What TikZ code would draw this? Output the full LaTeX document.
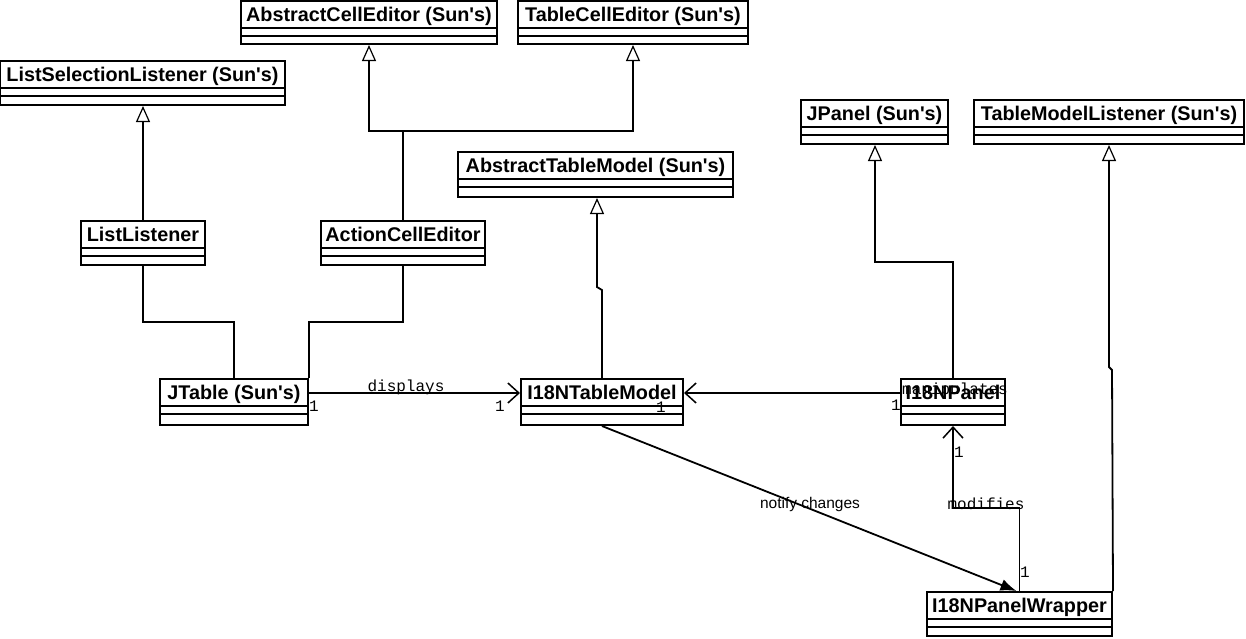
\documentclass[tikz,border=0pt]{standalone}
\usepackage{fontspec}
\setmainfont{Liberation Sans}[Ligatures=TeXOff]
\newfontfamily\monof{Liberation Mono}
\usetikzlibrary{arrows.meta,fit,calc}
\tikzset{
  clsbox/.style={draw, line width=2pt, inner sep=0pt},
  clsname/.style={font=\fontsize{19.8}{20}\selectfont\bfseries, inner sep=0pt, anchor=base},
  conn/.style={line width=1.8pt},
  gen/.style={conn, -{Triangle[open, length=16pt, width=14pt, line width=1.2pt]}},
  assoc/.style={conn, -{Straight Barb[length=11pt, width=20pt, line width=1.5pt]}},
  filled/.style={conn, -{Latex[length=16pt, width=12pt]}},
  mult/.style={font=\monof\fontsize{16}{16}\selectfont, inner sep=0pt},
  lbl/.style={font=\monof\fontsize{16}{16}\selectfont, inner sep=0pt, anchor=base},
  slbl/.style={font=\fontsize{15.5}{16}\selectfont, inner sep=0pt},
}
\newcommand\umlclass[6]{%
  \node[clsbox, fit={(#2,#3)(#4,#5)}] (#1) {};
  \node[clsname] at ($(#1.north)+(0,21)$) {#6};
  \draw[line width=2pt] ($(#1.north west)+(0,28)$) -- ($(#1.north east)+(0,28)$);
  \draw[line width=2pt] ($(#1.north west)+(0,36)$) -- ($(#1.north east)+(0,36)$);
}
\begin{document}
\begin{tikzpicture}[x=1pt,y=-1pt]
\useasboundingbox[fill=white] (0,0) rectangle (1246,638);
% label partly hidden under I18NPanel
\node[lbl, anchor=base west] (manip) at (902,394) {manipulates};
\umlclass{ace}{241}{1}{497}{44}{AbstractCellEditor (Sun's)}
\umlclass{tce}{518}{1}{748}{44}{TableCellEditor (Sun's)}
\umlclass{lsl}{0}{61}{285}{105}{ListSelectionListener (Sun's)}
\umlclass{jp}{801}{100}{948}{144}{JPanel (Sun's)}
\umlclass{tml}{974}{100}{1244}{144}{TableModelListener (Sun's)}
\umlclass{atm}{458}{152}{733}{197}{AbstractTableModel (Sun's)}
\umlclass{ll}{81}{221}{205}{265}{ListListener}
\umlclass{acel}{321}{221}{485}{265}{ActionCellEditor}
\umlclass{jt}{160}{379}{308}{425}{JTable (Sun's)}
\umlclass{tm}{521}{379}{683}{425}{I18NTableModel}
\umlclass{pnl}{901}{379}{1005}{425}{I18NPanel}
\umlclass{pw}{927}{592}{1112}{636}{I18NPanelWrapper}

% generalizations
\draw[gen] (ll.north) -- (ll.north |- lsl.south);
\coordinate (aj) at (403,131);
\draw[gen] (acel.north) -- (aj) -| (ace.south);
\draw[gen] (aj) -| (tce.south);
\coordinate (tj1) at (602,290);
\coordinate (tj2) at (597,287);
\draw[gen] (tm.north) -- (tj1) -- (tj2) -- (tj2 |- atm.south);
\coordinate (pj) at (875,262);
\draw[gen] (pnl.north) |- (pj) -- (pj |- jp.south);
\coordinate (wj1) at (1112,370);
\coordinate (wj2) at (1109,367);
\draw[gen] (pw.north east) -- (wj1) -- (wj2) -- (wj2 |- tml.south);

% plain associations
\draw[conn] (ll.south) |- (jt.north |- 0,322) -- (jt.north);
\draw[conn] (acel.south) |- (jt.north east |- 0,322) -- (jt.north east);

% navigable associations
\draw[assoc] (jt.east |- 0,393) -- (tm.west |- 0,393);
\node[lbl] (displays) at (406,391) {displays};
\node[mult] (m1) at (314,406) {1};
\node[mult] (m2) at (500,406) {1};

\draw[assoc] (pnl.west |- 0,393) -- (tm.east |- 0,393);
\node[mult] (m3) at (661,407) {1};
\node[mult] (m4) at (896,405) {1};

\draw[filled] (tm.south) -- ($(pw.north)+(-3,0)$);
\node[slbl] (notify) at (810,504) {notify changes};

\draw[assoc] (pw.north) |- (pnl.south |- 0,508) -- (pnl.south);
\node[lbl] (modifies) at (986,509) {modifies};
\node[mult] (m5) at (959,452) {1};
\node[mult] (m6) at (1025,572) {1};
\end{tikzpicture}
\end{document}
